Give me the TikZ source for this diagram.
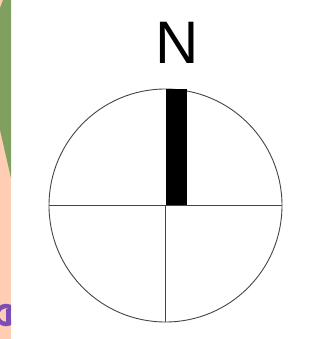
\documentclass[tikz,border=0pt]{standalone}
\usepackage{fontspec}
\setmainfont{Liberation Sans}
\usetikzlibrary{positioning}
\definecolor{stripbg}{HTML}{FFCDB3}
\definecolor{leafgreen}{HTML}{7FA05E}
\definecolor{markpurple}{HTML}{7B4DB8}
\definecolor{dialgray}{HTML}{444444}

\begin{document}
\begin{tikzpicture}[x=1pt,y=-1pt,every node/.style={inner sep=0pt}]
        \useasboundingbox (0,0) rectangle (320,339);
        % left edge of the neighbouring sheet
        \fill[stripbg] (0,0) rectangle (11,339);
        \fill[leafgreen] (3,0) -- (0,8) -- (0,130) -- (11,178) -- (11,0) -- cycle;
        \begin{scope}
          \clip (0,0) rectangle (11,339);
          \draw[markpurple,line width=4.5pt] (6,315) circle (9);
          \fill[markpurple] (6,309) rectangle (11,324);
        \end{scope}
        % compass
        \node[draw=dialgray,line width=0.9pt,circle,minimum size=233pt] (dial) at (165.5,205.5) {};
        \node[font=\fontsize{60}{60}\selectfont] (north) at (177.5,42.5) {N};
        \fill[black] (166,89.5) rectangle (187,205.5);
        \draw[dialgray,line width=0.9pt] (dial.west) -- (dial.east);
        \draw[dialgray,line width=0.9pt] (dial.center) -- (dial.south);
      \end{tikzpicture}
\end{document}
